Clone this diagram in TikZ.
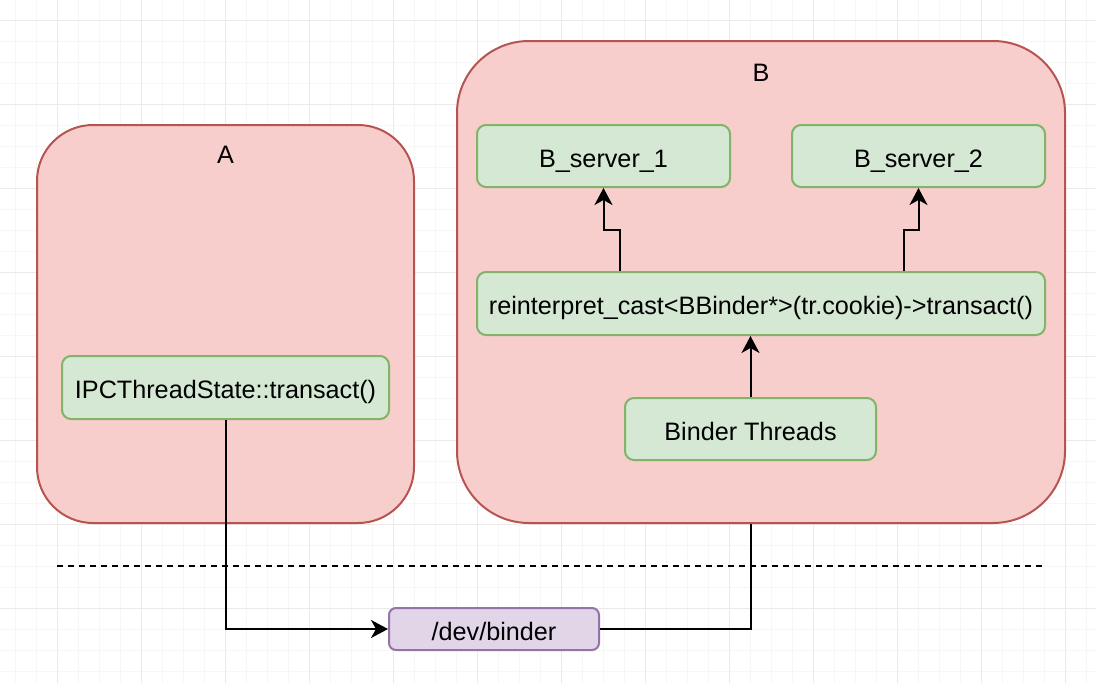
\documentclass[tikz,border=0pt]{standalone}
\usepackage{fontspec}
\setmainfont{Liberation Sans}
\usetikzlibrary{arrows.meta}
\definecolor{redfill}{HTML}{F8CECC}
\definecolor{redline}{HTML}{B85450}
\definecolor{greenfill}{HTML}{D5E8D4}
\definecolor{greenline}{HTML}{82B366}
\definecolor{purplefill}{HTML}{E1D5E7}
\definecolor{purpleline}{HTML}{9673A6}
\definecolor{gridminor}{HTML}{F6F6F6}
\definecolor{gridmajor}{HTML}{EAEAEA}
\tikzset{
  txt/.style={font=\fontsize{25.2}{30}\selectfont, text height=22pt, text depth=0pt},
  proc/.style={draw=redline, fill=redfill, line width=2pt, inner sep=0pt, anchor=center},
  fbox/.style={txt, draw=greenline, fill=greenfill, line width=2pt, rounded corners=9pt, inner sep=0pt, anchor=center},
  devbox/.style={txt, draw=purpleline, fill=purplefill, line width=2pt, rounded corners=7pt, inner sep=0pt, anchor=center},
  lbl/.style={txt, inner sep=0pt, anchor=center},
  conn/.style={draw=black, line width=2pt},
  arr/.style={conn, -{Stealth[length=17pt, width=18pt, inset=5pt]}},
}
\begin{document}
\begin{tikzpicture}[x=1pt, y=-1pt]
\useasboundingbox (0,0) rectangle (1096,683);
% grid
\foreach \x in {15,36,...,1096} \draw[gridminor, line width=1pt] (\x,0) -- (\x,683);
\foreach \y in {20,41,...,683} \draw[gridminor, line width=1pt] (0,\y) -- (1096,\y);
\foreach \x in {57,141,...,1096} \draw[gridmajor, line width=1pt] (\x,0) -- (\x,683);
\foreach \y in {20,104,...,683} \draw[gridmajor, line width=1pt] (0,\y) -- (1096,\y);
% containers
\node[proc, rounded corners=56pt, minimum width=377pt, minimum height=398pt] (A) at (225.5,324) {};
\node[lbl] (Alabel) at (225.5,152.5) {A};
\node[proc, rounded corners=72pt, minimum width=608pt, minimum height=482pt] (B) at (761,282) {};
\node[lbl] (Blabel) at (761,70.5) {B};
% inner boxes
\node[fbox, minimum width=327pt, minimum height=63pt] (ipc) at (225.5,387.5) {IPCThreadState::transact()};
\node[fbox, minimum width=253pt, minimum height=62pt] (s1) at (603.5,156) {B\_server\_1};
\node[fbox, minimum width=253pt, minimum height=62pt] (s2) at (918.5,156) {B\_server\_2};
\node[fbox, minimum width=568pt, minimum height=63pt] (rc) at (761,303.5) {reinterpret\_cast<BBinder*>(tr.cookie)->transact()};
\node[fbox, minimum width=251pt, minimum height=62pt] (bt) at (750.5,429) {Binder Threads};
\node[devbox, minimum width=210pt, minimum height=42pt] (dev) at (494,629) {/dev/binder};
% dashed separator
\coordinate (dl) at (57,566);
\coordinate (dr) at (1045,566);
\draw[black, line width=2pt, dash pattern=on 6pt off 5pt] (dl) -- (dr);
% connectors
\draw[arr] (ipc.south) |- (dev.west);
\draw[conn] (dev.east) -| (B.south -| bt.south);
\draw[arr] (bt.north) -- (bt.north |- rc.south);
\coordinate (j1a) at (620,230);
\coordinate (j1b) at (603.5,230);
\draw[arr] (j1a |- rc.north) -- (j1a) -- (j1b) -- (s1.south);
\coordinate (j2a) at (903.5,230);
\coordinate (j2b) at (918.5,230);
\draw[arr] (j2a |- rc.north) -- (j2a) -- (j2b) -- (s2.south);
\end{tikzpicture}
\end{document}
